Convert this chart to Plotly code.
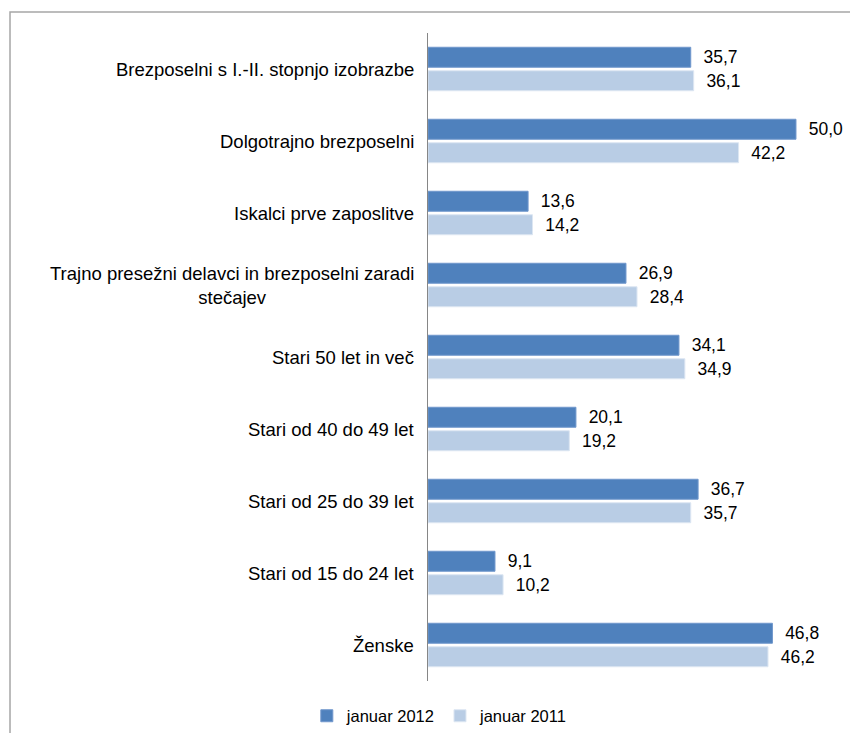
import plotly.graph_objects as go

categories = [
    "Brezposelni s I.-II. stopnjo izobrazbe",
    "Dolgotrajno brezposelni",
    "Iskalci prve zaposlitve",
    "Trajno presežni delavci in brezposelni zaradi<br>stečajev",
    "Stari 50 let in več",
    "Stari od 40 do 49 let",
    "Stari od 25 do 39 let",
    "Stari od 15 do 24 let",
    "Ženske",
]
jan2012 = [35.7, 50.0, 13.6, 26.9, 34.1, 20.1, 36.7, 9.1, 46.8]
jan2011 = [36.1, 42.2, 14.2, 28.4, 34.9, 19.2, 35.7, 10.2, 46.2]
series_names = ["januar 2012", "januar 2011"]

def fmt(v):
    return f"{v:.1f}".replace(".", ",")

FONT = "Liberation Sans, Arial, sans-serif"

fig = go.Figure()
fig.add_trace(go.Bar(
    y=categories, x=jan2012, orientation="h", name=series_names[0],
    marker=dict(color="#4F81BD", line=dict(color="#7097CC", width=1)),
    text=[fmt(v) for v in jan2012], texttemplate="  %{text}",
    textposition="outside", cliponaxis=False,
    textfont=dict(family=FONT, size=17.5, color="#000000"),
))
fig.add_trace(go.Bar(
    y=categories, x=jan2011, orientation="h", name=series_names[1],
    marker=dict(color="#B9CDE5", line=dict(color="#DCE6F2", width=1)),
    text=[fmt(v) for v in jan2011], texttemplate="  %{text}",
    textposition="outside", cliponaxis=False,
    textfont=dict(family=FONT, size=17.5, color="#000000"),
))

annotations = []
for c in categories:
    annotations.append(dict(
        xref="paper", yref="y", x=0, y=c, xshift=-12,
        xanchor="right", yanchor="middle", align="center",
        text=c, showarrow=False,
        font=dict(family=FONT, size=18.5, color="#000000"),
    ))

fig.update_layout(
    width=850, height=725,
    margin=dict(l=420, r=8, t=25, b=52, autoexpand=False),
    paper_bgcolor="white", plot_bgcolor="white",
    barmode="group", bargap=0.347, bargroupgap=0.15,
    showlegend=True,
    legend=dict(orientation="h", xref="paper", x=0.028, xanchor="center",
                yref="container", y=0.0234, yanchor="middle",
                font=dict(family=FONT, size=16.5, color="#000000"),
                itemwidth=30, tracegroupgap=0),
    xaxis=dict(range=[0, 57.34], visible=False, showgrid=False, zeroline=False),
    yaxis=dict(autorange="reversed", showticklabels=False, showgrid=False,
               showline=True, linecolor="#868686", linewidth=1.3, ticks=""),
    annotations=annotations,
    shapes=[dict(type="rect", xref="paper", yref="paper",
                 x0=-0.9905, x1=1.1, y0=-0.2, y1=1.0324,
                 line=dict(color="#A6A6A6", width=1.5))],
)

fig.write_html("out.html")
